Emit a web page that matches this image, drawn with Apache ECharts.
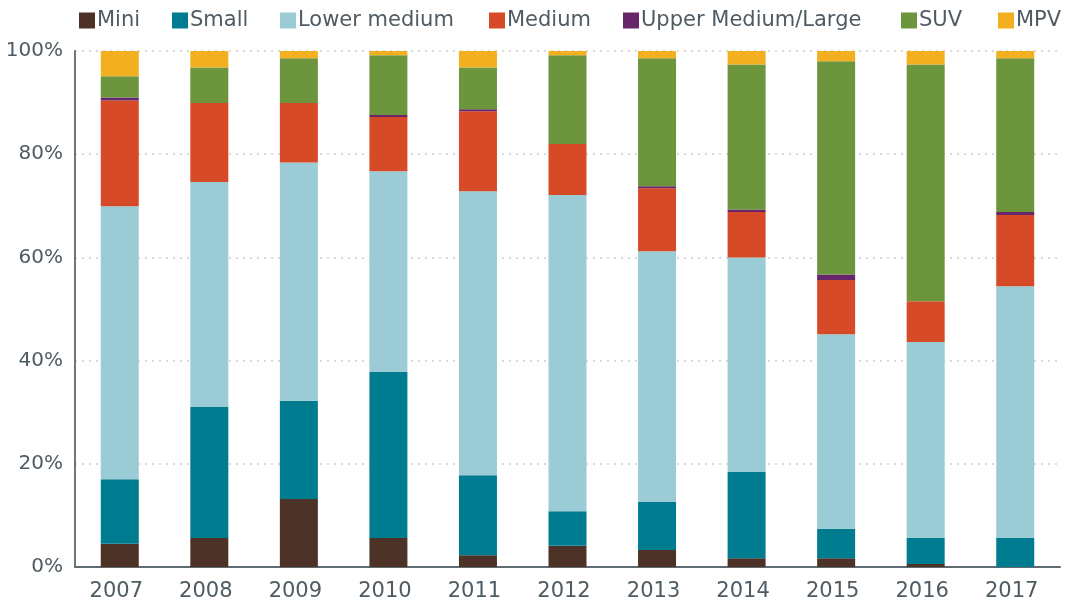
<!DOCTYPE html>
<html>
<head>
<meta charset="utf-8">
<script src="https://cdn.jsdelivr.net/npm/echarts@6/dist/echarts.min.js"></script>
<style>
  html, body { margin: 0; padding: 0; background: #fff; }
  #chart { width: 1065px; height: 606px; }
</style>
</head>
<body>
<div id="chart"></div>
<script>
const years = ['2007', '2008', '2009', '2010', '2011', '2012', '2013', '2014', '2015', '2016', '2017'];

// share of sales per segment, %
const mini = [4.5, 5.6, 13.2, 5.6, 2.3, 4.1, 3.3, 1.7, 1.7, 0.6, 0];
const small = [12.5, 25.4, 19.0, 32.2, 15.5, 6.7, 9.3, 16.7, 5.7, 5.0, 5.6];
const lowerMedium = [52.9, 43.6, 46.2, 38.9, 55.0, 61.3, 48.6, 41.6, 37.7, 38.0, 48.8];
const medium = [20.5, 15.3, 11.5, 10.5, 15.5, 9.9, 12.2, 8.8, 10.5, 7.9, 13.8];
const upperMedium = [0.6, 0, 0, 0.4, 0.4, 0, 0.4, 0.5, 1.1, 0, 0.6];
const suv = [4.1, 6.9, 8.7, 11.6, 8.1, 17.2, 24.8, 28.1, 41.3, 45.9, 29.8];
const mpv = [4.9, 3.2, 1.4, 0.8, 3.2, 0.8, 1.4, 2.6, 2.0, 2.6, 1.4];

const segments = [
  { name: 'Mini', data: mini, color: '#4d3228', left: 79 },
  { name: 'Small', data: small, color: '#007c91', left: 172 },
  { name: 'Lower medium', data: lowerMedium, color: '#9bcbd5', left: 280 },
  { name: 'Medium', data: medium, color: '#d64a27', left: 489 },
  { name: 'Upper Medium/Large', data: upperMedium, color: '#67256a', left: 623 },
  { name: 'SUV', data: suv, color: '#6d953d', left: 901 },
  { name: 'MPV', data: mpv, color: '#f2af1f', left: 998 }
];

const textColor = '#4f5b63';
const fontFamily = 'DejaVu Sans';

const chart = echarts.init(document.getElementById('chart'));

// one legend per item so each sits where the original puts it
const legends = segments.map(s => ({
  data: [s.name],
  left: s.left,
  top: 10,
  padding: 0,
  icon: 'rect',
  itemWidth: 16,
  itemHeight: 16,
  selectedMode: false,
  textStyle: {
    color: textColor,
    fontSize: 21,
    fontFamily: fontFamily,
    padding: [0, 0, 0, -3]
  }
}));

const option = {
  animation: false,
  legend: legends,
  grid: {
    left: 75,
    right: 5,
    top: 51,
    bottom: 39
  },
  xAxis: {
    type: 'category',
    data: years,
    axisTick: { show: false },
    axisLine: { lineStyle: { color: '#5f6a71', width: 2 } },
    axisLabel: {
      color: textColor,
      fontSize: 21,
      fontFamily: fontFamily,
      margin: 14,
      padding: [0, 7, 0, 0]
    }
  },
  yAxis: {
    type: 'value',
    min: 0,
    max: 100,
    interval: 20,
    axisLine: { show: true, lineStyle: { color: '#6d767c', width: 2 } },
    axisTick: { show: false },
    axisLabel: {
      color: textColor,
      fontSize: 20,
      fontFamily: fontFamily,
      margin: 12,
      formatter: '{value}%'
    },
    splitLine: {
      lineStyle: { color: '#d9d9d9', width: 2, type: [2, 5] }
    }
  },
  series: segments.map(s => ({
    name: s.name,
    type: 'bar',
    stack: 'share',
    barWidth: 38,
    itemStyle: { color: s.color },
    data: s.data
  }))
};

chart.setOption(option);
</script>
</body>
</html>
